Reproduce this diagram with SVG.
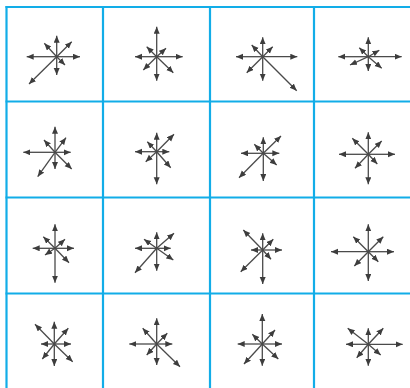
<svg xmlns="http://www.w3.org/2000/svg" width="410" height="388" viewBox="0 0 410 388">
<style>
.g{stroke:#12ade8;stroke-width:2.2;fill:none}
.a{stroke:#4a4a4a;stroke-width:1.3;marker-end:url(#h)}
</style>
<defs>
<marker id="h" markerUnits="userSpaceOnUse" markerWidth="8" markerHeight="7" refX="7" refY="3" orient="auto">
<path d="M0,0 L7,3 L0,6 z" fill="#3d3d3d"/>
</marker>
</defs>
<rect width="410" height="388" fill="#fff"/>
<g id="grid">
<line class="g" x1="6.5" y1="6" x2="6.5" y2="388"/>
<line class="g" x1="103" y1="6" x2="103" y2="388"/>
<line class="g" x1="210" y1="6" x2="210" y2="388"/>
<line class="g" x1="314" y1="6" x2="314" y2="388"/>
<line class="g" x1="5.5" y1="7" x2="410" y2="7"/>
<line class="g" x1="5.5" y1="101.5" x2="410" y2="101.5"/>
<line class="g" x1="5.5" y1="197.5" x2="410" y2="197.5"/>
<line class="g" x1="5.5" y1="293.5" x2="410" y2="293.5"/>
</g>
<g id="connectors">
<g id="c00">
<line class="a" x1="56.7" y1="56.7" x2="80" y2="56.7"/>
<line class="a" x1="56.7" y1="56.7" x2="26.7" y2="56.7"/>
<line class="a" x1="56.7" y1="56.7" x2="56.7" y2="35.7"/>
<line class="a" x1="56.7" y1="56.7" x2="56.7" y2="75"/>
<line class="a" x1="56.7" y1="56.7" x2="71.7" y2="41.7"/>
<line class="a" x1="56.7" y1="56.7" x2="44.3" y2="43.3"/>
<line class="a" x1="56.7" y1="56.7" x2="65" y2="65"/>
<line class="a" x1="56.7" y1="56.7" x2="29" y2="84"/>
</g>
<g id="c01">
<line class="a" x1="156.7" y1="56.7" x2="156.7" y2="26.7"/>
<line class="a" x1="156.7" y1="56.7" x2="156.7" y2="80.7"/>
<line class="a" x1="156.7" y1="56.7" x2="182.7" y2="56.7"/>
<line class="a" x1="156.7" y1="56.7" x2="135" y2="56.7"/>
<line class="a" x1="156.7" y1="56.7" x2="166" y2="48.3"/>
<line class="a" x1="156.7" y1="56.7" x2="146.7" y2="46.7"/>
<line class="a" x1="156.7" y1="56.7" x2="173.3" y2="72.7"/>
<line class="a" x1="156.7" y1="56.7" x2="143.3" y2="70"/>
</g>
<g id="c02">
<line class="a" x1="262.7" y1="56.7" x2="262.7" y2="37.3"/>
<line class="a" x1="262.7" y1="56.7" x2="262.7" y2="80.7"/>
<line class="a" x1="262.7" y1="56.7" x2="297.3" y2="56.7"/>
<line class="a" x1="262.7" y1="56.7" x2="236" y2="56.7"/>
<line class="a" x1="262.7" y1="56.7" x2="272.7" y2="46.7"/>
<line class="a" x1="262.7" y1="56.7" x2="251.7" y2="45"/>
<line class="a" x1="262.7" y1="56.7" x2="296.7" y2="90.7"/>
<line class="a" x1="262.7" y1="56.7" x2="246.7" y2="72.7"/>
</g>
<g id="c03">
<line class="a" x1="368.3" y1="56.7" x2="368.3" y2="37.3"/>
<line class="a" x1="368.3" y1="56.7" x2="368.3" y2="71"/>
<line class="a" x1="368.3" y1="56.7" x2="401.7" y2="56.7"/>
<line class="a" x1="368.3" y1="56.7" x2="338.3" y2="56.7"/>
<line class="a" x1="368.3" y1="56.7" x2="379.3" y2="50.2"/>
<line class="a" x1="368.3" y1="56.7" x2="359.3" y2="47.7"/>
<line class="a" x1="368.3" y1="56.7" x2="381.7" y2="68.3"/>
<line class="a" x1="368.3" y1="56.7" x2="350" y2="65"/>
</g>
<g id="c10">
<line class="a" x1="55" y1="152.3" x2="55" y2="126.7"/>
<line class="a" x1="55" y1="152.3" x2="55" y2="169"/>
<line class="a" x1="55" y1="152.3" x2="70.7" y2="152.3"/>
<line class="a" x1="55" y1="152.3" x2="23.3" y2="152.3"/>
<line class="a" x1="55" y1="152.3" x2="66" y2="137.7"/>
<line class="a" x1="55" y1="152.3" x2="44" y2="140"/>
<line class="a" x1="55" y1="152.3" x2="71.7" y2="169"/>
<line class="a" x1="55" y1="152.3" x2="37.7" y2="176.7"/>
</g>
<g id="c11">
<line class="a" x1="156.7" y1="151.7" x2="156.7" y2="132.7"/>
<line class="a" x1="156.7" y1="151.7" x2="156.7" y2="184.3"/>
<line class="a" x1="156.7" y1="151.7" x2="169.3" y2="151.7"/>
<line class="a" x1="156.7" y1="151.7" x2="135" y2="151.7"/>
<line class="a" x1="156.7" y1="151.7" x2="174" y2="134.3"/>
<line class="a" x1="156.7" y1="151.7" x2="147.3" y2="141.7"/>
<line class="a" x1="156.7" y1="151.7" x2="170.7" y2="167.7"/>
<line class="a" x1="156.7" y1="151.7" x2="145.7" y2="161.7"/>
</g>
<g id="c12">
<line class="a" x1="263.3" y1="153.3" x2="263.3" y2="137.3"/>
<line class="a" x1="263.3" y1="153.3" x2="263.3" y2="181"/>
<line class="a" x1="263.3" y1="153.3" x2="279.3" y2="153.3"/>
<line class="a" x1="263.3" y1="153.3" x2="241" y2="153.3"/>
<line class="a" x1="263.3" y1="153.3" x2="281" y2="136"/>
<line class="a" x1="263.3" y1="153.3" x2="254.3" y2="144.3"/>
<line class="a" x1="263.3" y1="153.3" x2="276.7" y2="165"/>
<line class="a" x1="263.3" y1="153.3" x2="239" y2="177.7"/>
</g>
<g id="c13">
<line class="a" x1="368.3" y1="154.3" x2="368.3" y2="132.3"/>
<line class="a" x1="368.3" y1="154.3" x2="368.3" y2="184.3"/>
<line class="a" x1="368.3" y1="154.3" x2="395" y2="154.3"/>
<line class="a" x1="368.3" y1="154.3" x2="339" y2="154.3"/>
<line class="a" x1="368.3" y1="154.3" x2="381.7" y2="141"/>
<line class="a" x1="368.3" y1="154.3" x2="352.3" y2="138.3"/>
<line class="a" x1="368.3" y1="154.3" x2="377.3" y2="164"/>
<line class="a" x1="368.3" y1="154.3" x2="355" y2="168.3"/>
</g>
<g id="c20">
<line class="a" x1="55" y1="248.3" x2="55" y2="224.3"/>
<line class="a" x1="55" y1="248.3" x2="55" y2="282.7"/>
<line class="a" x1="55" y1="248.3" x2="74" y2="248.3"/>
<line class="a" x1="55" y1="248.3" x2="32.7" y2="248.3"/>
<line class="a" x1="55" y1="248.3" x2="65" y2="239.3"/>
<line class="a" x1="55" y1="248.3" x2="43.3" y2="236.7"/>
<line class="a" x1="55" y1="248.3" x2="69" y2="262.7"/>
<line class="a" x1="55" y1="248.3" x2="45" y2="255"/>
</g>
<g id="c21">
<line class="a" x1="156.7" y1="248.3" x2="156.7" y2="232.3"/>
<line class="a" x1="156.7" y1="248.3" x2="156.7" y2="270.7"/>
<line class="a" x1="156.7" y1="248.3" x2="170.7" y2="248.3"/>
<line class="a" x1="156.7" y1="248.3" x2="135" y2="248.3"/>
<line class="a" x1="156.7" y1="248.3" x2="174" y2="233.3"/>
<line class="a" x1="156.7" y1="248.3" x2="144" y2="239.3"/>
<line class="a" x1="156.7" y1="248.3" x2="173.3" y2="260"/>
<line class="a" x1="156.7" y1="248.3" x2="135" y2="272.7"/>
</g>
<g id="c22">
<line class="a" x1="262.7" y1="250" x2="262.7" y2="233.3"/>
<line class="a" x1="262.7" y1="250" x2="262.7" y2="284"/>
<line class="a" x1="262.7" y1="250" x2="282" y2="250"/>
<line class="a" x1="262.7" y1="250" x2="251" y2="250"/>
<line class="a" x1="262.7" y1="250" x2="273.3" y2="239.3"/>
<line class="a" x1="262.7" y1="250" x2="243.3" y2="230"/>
<line class="a" x1="262.7" y1="250" x2="271" y2="259.3"/>
<line class="a" x1="262.7" y1="250" x2="240.7" y2="271.7"/>
</g>
<g id="c23">
<line class="a" x1="368.3" y1="251.7" x2="368.3" y2="224.3"/>
<line class="a" x1="368.3" y1="251.7" x2="368.3" y2="281"/>
<line class="a" x1="368.3" y1="251.7" x2="394" y2="251.7"/>
<line class="a" x1="368.3" y1="251.7" x2="331" y2="251.7"/>
<line class="a" x1="368.3" y1="251.7" x2="383.3" y2="236.7"/>
<line class="a" x1="368.3" y1="251.7" x2="353.3" y2="236.7"/>
<line class="a" x1="368.3" y1="251.7" x2="378.3" y2="261.7"/>
<line class="a" x1="368.3" y1="251.7" x2="354.3" y2="266"/>
</g>
<g id="c30">
<line class="a" x1="54.3" y1="344" x2="54.3" y2="321.7"/>
<line class="a" x1="54.3" y1="344" x2="54.3" y2="366"/>
<line class="a" x1="54.3" y1="344" x2="71" y2="344"/>
<line class="a" x1="54.3" y1="344" x2="41" y2="344"/>
<line class="a" x1="54.3" y1="344" x2="68.3" y2="328.3"/>
<line class="a" x1="54.3" y1="344" x2="35" y2="324.3"/>
<line class="a" x1="54.3" y1="344" x2="72.7" y2="361.7"/>
<line class="a" x1="54.3" y1="344" x2="42.3" y2="359"/>
</g>
<g id="c31">
<line class="a" x1="156.7" y1="344" x2="156.7" y2="318.3"/>
<line class="a" x1="156.7" y1="344" x2="156.7" y2="365"/>
<line class="a" x1="156.7" y1="344" x2="172.3" y2="344"/>
<line class="a" x1="156.7" y1="344" x2="129.3" y2="344"/>
<line class="a" x1="156.7" y1="344" x2="167.3" y2="333.3"/>
<line class="a" x1="156.7" y1="344" x2="142.7" y2="328.3"/>
<line class="a" x1="156.7" y1="344" x2="180" y2="366.7"/>
<line class="a" x1="156.7" y1="344" x2="146.7" y2="355"/>
</g>
<g id="c32">
<line class="a" x1="262.3" y1="344" x2="262.3" y2="314"/>
<line class="a" x1="262.3" y1="344" x2="262.3" y2="365.7"/>
<line class="a" x1="262.3" y1="344" x2="282" y2="344"/>
<line class="a" x1="262.3" y1="344" x2="237.7" y2="344"/>
<line class="a" x1="262.3" y1="344" x2="275" y2="330"/>
<line class="a" x1="262.3" y1="344" x2="252.3" y2="334.3"/>
<line class="a" x1="262.3" y1="344" x2="278.3" y2="359"/>
<line class="a" x1="262.3" y1="344" x2="244" y2="364"/>
</g>
<g id="c33">
<line class="a" x1="368.3" y1="344.3" x2="368.3" y2="328.3"/>
<line class="a" x1="368.3" y1="344.3" x2="368.3" y2="365.7"/>
<line class="a" x1="368.3" y1="344.3" x2="402.7" y2="344.3"/>
<line class="a" x1="368.3" y1="344.3" x2="346" y2="344.3"/>
<line class="a" x1="368.3" y1="344.3" x2="383.3" y2="328.3"/>
<line class="a" x1="368.3" y1="344.3" x2="347.7" y2="328.3"/>
<line class="a" x1="368.3" y1="344.3" x2="380.7" y2="355"/>
<line class="a" x1="368.3" y1="344.3" x2="356.7" y2="357.7"/>
</g>
</g>
</svg>
